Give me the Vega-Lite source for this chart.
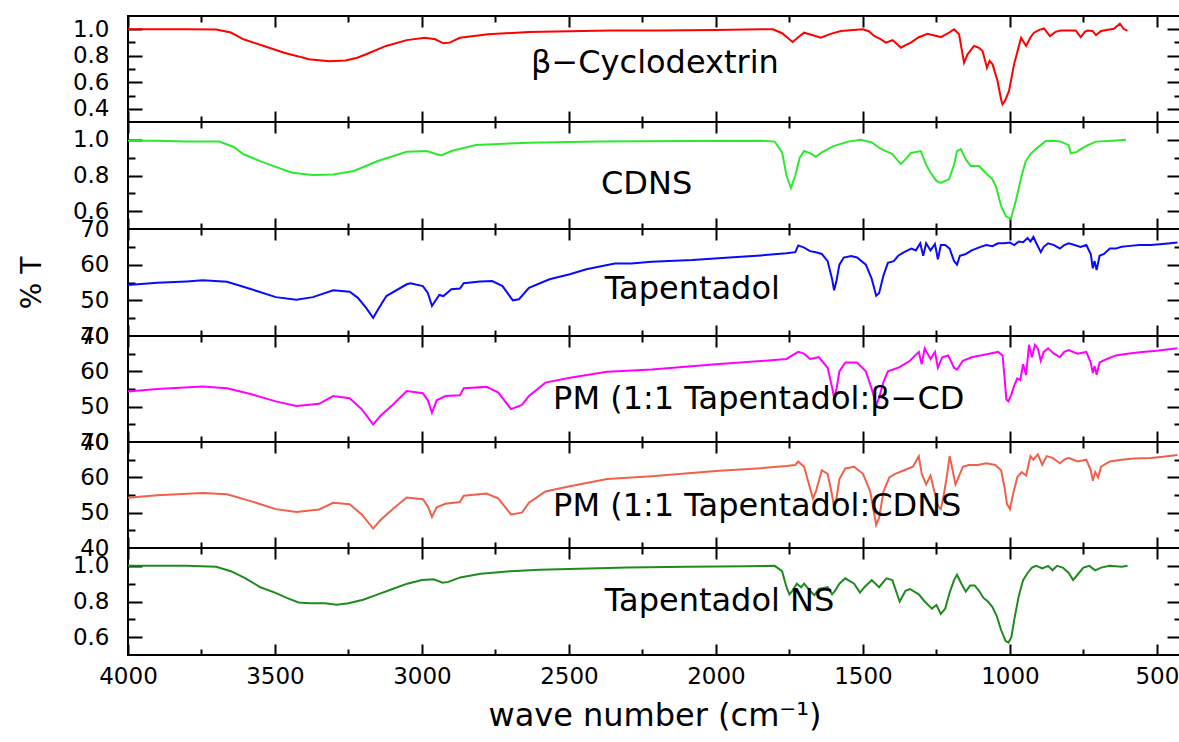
{
"$schema":"https://vega.github.io/schema/vega-lite/v6.json",
"padding":{"left":17,"top":14,"right":0,"bottom":0},
"background":"white",
"config":{"view":{"stroke":"black","strokeWidth":2},
"axis":{"domain":false,"grid":false,"tickColor":"black","tickWidth":2,"labelFont":"DejaVu Sans","labelFontSize":23,"labelColor":"black","titleFont":"DejaVu Sans","titleColor":"black","titleFontWeight":"normal","labelFlush":false,"labelOverlap":false}},
"datasets":{
"b":[{"w":4000,"v":1.0},{"w":3900,"v":1.0},{"w":3800,"v":1.0},{"w":3700,"v":0.998},{"w":3650,"v":0.975},{"w":3607,"v":0.924},{"w":3540,"v":0.875},{"w":3469,"v":0.823},{"w":3420,"v":0.795},{"w":3385,"v":0.773},{"w":3316,"v":0.758},{"w":3260,"v":0.765},{"w":3220,"v":0.785},{"w":3190,"v":0.811},{"w":3122,"v":0.874},{"w":3052,"v":0.918},{"w":2990,"v":0.936},{"w":2955,"v":0.924},{"w":2927,"v":0.894},{"w":2906,"v":0.899},{"w":2871,"v":0.936},{"w":2775,"v":0.962},{"w":2636,"v":0.979},{"w":2500,"v":0.985},{"w":2357,"v":0.99},{"w":2200,"v":0.99},{"w":2000,"v":0.995},{"w":1847,"v":1.0},{"w":1806,"v":1.0},{"w":1775,"v":0.97},{"w":1739,"v":0.904},{"w":1720,"v":0.94},{"w":1700,"v":0.974},{"w":1670,"v":0.955},{"w":1643,"v":0.936},{"w":1610,"v":0.965},{"w":1575,"v":0.987},{"w":1500,"v":1.0},{"w":1480,"v":0.985},{"w":1462,"v":0.949},{"w":1440,"v":0.925},{"w":1422,"v":0.899},{"w":1399,"v":0.917},{"w":1385,"v":0.89},{"w":1371,"v":0.861},{"w":1355,"v":0.88},{"w":1337,"v":0.899},{"w":1310,"v":0.94},{"w":1280,"v":0.966},{"w":1260,"v":0.955},{"w":1235,"v":0.941},{"w":1210,"v":0.97},{"w":1190,"v":1.0},{"w":1173,"v":0.962},{"w":1156,"v":0.748},{"w":1144,"v":0.811},{"w":1122,"v":0.874},{"w":1105,"v":0.86},{"w":1093,"v":0.836},{"w":1078,"v":0.71},{"w":1069,"v":0.761},{"w":1059,"v":0.735},{"w":1042,"v":0.609},{"w":1030,"v":0.47},{"w":1025,"v":0.434},{"w":1017,"v":0.459},{"w":1003,"v":0.534},{"w":986,"v":0.735},{"w":962,"v":0.936},{"w":945,"v":0.874},{"w":930,"v":0.94},{"w":918,"v":0.974},{"w":900,"v":0.995},{"w":884,"v":1.006},{"w":864,"v":0.949},{"w":845,"v":0.98},{"w":827,"v":0.99},{"w":776,"v":0.99},{"w":759,"v":0.941},{"w":745,"v":0.98},{"w":736,"v":0.99},{"w":719,"v":0.987},{"w":707,"v":0.956},{"w":690,"v":0.987},{"w":646,"v":1.004},{"w":626,"v":1.042},{"w":612,"v":1.0},{"w":600,"v":0.99}],
"c":[{"w":4000,"v":0.995},{"w":3900,"v":0.995},{"w":3800,"v":0.99},{"w":3690,"v":0.99},{"w":3640,"v":0.96},{"w":3607,"v":0.919},{"w":3538,"v":0.872},{"w":3441,"v":0.816},{"w":3372,"v":0.803},{"w":3302,"v":0.806},{"w":3232,"v":0.825},{"w":3150,"v":0.881},{"w":3052,"v":0.933},{"w":2983,"v":0.937},{"w":2955,"v":0.922},{"w":2934,"v":0.913},{"w":2900,"v":0.937},{"w":2816,"v":0.971},{"w":2636,"v":0.984},{"w":2400,"v":0.99},{"w":2100,"v":0.993},{"w":1847,"v":0.995},{"w":1800,"v":0.99},{"w":1775,"v":0.93},{"w":1760,"v":0.8},{"w":1745,"v":0.73},{"w":1730,"v":0.8},{"w":1715,"v":0.9},{"w":1700,"v":0.937},{"w":1680,"v":0.925},{"w":1660,"v":0.905},{"w":1640,"v":0.93},{"w":1600,"v":0.965},{"w":1550,"v":0.99},{"w":1507,"v":1.0},{"w":1470,"v":0.985},{"w":1440,"v":0.95},{"w":1400,"v":0.92},{"w":1371,"v":0.864},{"w":1350,"v":0.9},{"w":1337,"v":0.926},{"w":1303,"v":0.937},{"w":1285,"v":0.86},{"w":1269,"v":0.814},{"w":1250,"v":0.77},{"w":1235,"v":0.758},{"w":1207,"v":0.78},{"w":1190,"v":0.86},{"w":1180,"v":0.937},{"w":1167,"v":0.948},{"w":1150,"v":0.89},{"w":1133,"v":0.853},{"w":1105,"v":0.853},{"w":1082,"v":0.814},{"w":1060,"v":0.78},{"w":1048,"v":0.741},{"w":1030,"v":0.63},{"w":1014,"v":0.573},{"w":997,"v":0.556},{"w":980,"v":0.657},{"w":960,"v":0.8},{"w":946,"v":0.881},{"w":930,"v":0.92},{"w":912,"v":0.948},{"w":878,"v":0.993},{"w":850,"v":0.995},{"w":827,"v":0.99},{"w":800,"v":0.97},{"w":793,"v":0.926},{"w":775,"v":0.93},{"w":759,"v":0.948},{"w":735,"v":0.97},{"w":707,"v":0.99},{"w":650,"v":0.995},{"w":605,"v":1.0}],
"t":[{"w":4000,"v":54.3},{"w":3900,"v":54.9},{"w":3800,"v":55.3},{"w":3746,"v":55.6},{"w":3663,"v":55.2},{"w":3580,"v":53.1},{"w":3497,"v":50.9},{"w":3427,"v":50.2},{"w":3371,"v":50.9},{"w":3302,"v":52.8},{"w":3246,"v":52.4},{"w":3218,"v":50.7},{"w":3190,"v":47.9},{"w":3166,"v":45.1},{"w":3149,"v":47.5},{"w":3121,"v":51.2},{"w":3052,"v":54.5},{"w":3039,"v":54.8},{"w":2997,"v":54.0},{"w":2980,"v":52.1},{"w":2966,"v":48.4},{"w":2955,"v":49.8},{"w":2941,"v":51.5},{"w":2927,"v":51.2},{"w":2900,"v":53.1},{"w":2871,"v":53.3},{"w":2858,"v":54.8},{"w":2802,"v":55.3},{"w":2761,"v":55.4},{"w":2726,"v":54.0},{"w":2691,"v":50.0},{"w":2670,"v":50.3},{"w":2636,"v":53.5},{"w":2566,"v":55.9},{"w":2497,"v":57.3},{"w":2441,"v":58.7},{"w":2344,"v":60.3},{"w":2288,"v":60.3},{"w":2219,"v":60.8},{"w":2080,"v":61.3},{"w":1941,"v":62.1},{"w":1847,"v":62.6},{"w":1760,"v":63.2},{"w":1730,"v":63.5},{"w":1720,"v":65.4},{"w":1700,"v":64.8},{"w":1680,"v":63.8},{"w":1660,"v":63.5},{"w":1640,"v":63.0},{"w":1620,"v":61.0},{"w":1605,"v":56.0},{"w":1598,"v":52.8},{"w":1590,"v":55.5},{"w":1580,"v":60.0},{"w":1565,"v":62.0},{"w":1540,"v":62.4},{"w":1520,"v":62.0},{"w":1490,"v":60.0},{"w":1470,"v":56.0},{"w":1455,"v":51.3},{"w":1445,"v":52.0},{"w":1430,"v":57.0},{"w":1415,"v":60.5},{"w":1395,"v":61.0},{"w":1380,"v":62.5},{"w":1360,"v":63.5},{"w":1335,"v":64.5},{"w":1320,"v":64.0},{"w":1305,"v":66.0},{"w":1295,"v":62.5},{"w":1285,"v":66.0},{"w":1270,"v":64.0},{"w":1255,"v":65.8},{"w":1245,"v":61.5},{"w":1235,"v":65.5},{"w":1220,"v":65.5},{"w":1205,"v":64.5},{"w":1190,"v":61.0},{"w":1180,"v":60.0},{"w":1170,"v":62.5},{"w":1150,"v":63.0},{"w":1130,"v":64.0},{"w":1100,"v":65.0},{"w":1080,"v":65.5},{"w":1060,"v":65.2},{"w":1040,"v":66.0},{"w":1020,"v":66.0},{"w":1000,"v":66.2},{"w":985,"v":65.5},{"w":970,"v":66.5},{"w":955,"v":66.3},{"w":940,"v":67.5},{"w":930,"v":66.5},{"w":920,"v":67.8},{"w":910,"v":66.0},{"w":895,"v":63.5},{"w":885,"v":65.0},{"w":870,"v":66.0},{"w":850,"v":65.5},{"w":830,"v":64.5},{"w":815,"v":65.5},{"w":800,"v":66.0},{"w":780,"v":65.5},{"w":760,"v":65.0},{"w":740,"v":65.5},{"w":725,"v":63.0},{"w":718,"v":59.0},{"w":712,"v":61.0},{"w":705,"v":58.5},{"w":695,"v":62.5},{"w":680,"v":63.0},{"w":660,"v":64.5},{"w":640,"v":64.5},{"w":620,"v":65.0},{"w":600,"v":65.2},{"w":560,"v":65.5},{"w":520,"v":65.5},{"w":480,"v":65.8},{"w":430,"v":66.2}],
"pb":[{"w":4000,"v":54.3},{"w":3900,"v":55.0},{"w":3746,"v":55.7},{"w":3663,"v":55.2},{"w":3580,"v":53.5},{"w":3497,"v":51.5},{"w":3427,"v":50.2},{"w":3350,"v":50.8},{"w":3302,"v":53.0},{"w":3246,"v":52.4},{"w":3205,"v":49.3},{"w":3166,"v":45.0},{"w":3140,"v":47.5},{"w":3100,"v":50.5},{"w":3052,"v":54.4},{"w":2997,"v":53.8},{"w":2980,"v":51.8},{"w":2966,"v":48.3},{"w":2950,"v":51.8},{"w":2920,"v":53.0},{"w":2871,"v":53.2},{"w":2858,"v":55.2},{"w":2780,"v":55.6},{"w":2740,"v":54.0},{"w":2697,"v":49.3},{"w":2660,"v":50.5},{"w":2636,"v":53.0},{"w":2580,"v":56.8},{"w":2497,"v":58.2},{"w":2370,"v":59.9},{"w":2219,"v":60.5},{"w":2000,"v":62.0},{"w":1847,"v":62.9},{"w":1760,"v":63.5},{"w":1720,"v":65.5},{"w":1700,"v":65.0},{"w":1680,"v":63.5},{"w":1650,"v":64.0},{"w":1620,"v":61.0},{"w":1605,"v":55.5},{"w":1598,"v":52.5},{"w":1590,"v":55.0},{"w":1580,"v":60.0},{"w":1560,"v":62.5},{"w":1520,"v":62.5},{"w":1490,"v":60.0},{"w":1470,"v":55.0},{"w":1455,"v":50.5},{"w":1445,"v":52.5},{"w":1430,"v":57.0},{"w":1415,"v":60.0},{"w":1380,"v":61.0},{"w":1340,"v":63.0},{"w":1310,"v":65.5},{"w":1300,"v":62.0},{"w":1290,"v":66.5},{"w":1270,"v":63.5},{"w":1255,"v":65.5},{"w":1245,"v":61.0},{"w":1230,"v":64.0},{"w":1210,"v":64.5},{"w":1190,"v":61.0},{"w":1180,"v":60.5},{"w":1160,"v":63.0},{"w":1130,"v":64.0},{"w":1100,"v":64.5},{"w":1070,"v":65.0},{"w":1040,"v":65.5},{"w":1025,"v":64.5},{"w":1018,"v":58.0},{"w":1012,"v":52.0},{"w":1005,"v":51.5},{"w":995,"v":53.5},{"w":985,"v":56.0},{"w":975,"v":58.0},{"w":965,"v":57.5},{"w":955,"v":62.0},{"w":945,"v":59.0},{"w":935,"v":67.5},{"w":925,"v":64.0},{"w":915,"v":67.5},{"w":905,"v":66.5},{"w":895,"v":63.0},{"w":885,"v":65.5},{"w":870,"v":66.5},{"w":850,"v":65.0},{"w":830,"v":64.0},{"w":815,"v":65.5},{"w":800,"v":66.0},{"w":770,"v":65.0},{"w":740,"v":65.5},{"w":725,"v":62.5},{"w":718,"v":59.5},{"w":712,"v":61.5},{"w":705,"v":59.0},{"w":695,"v":62.5},{"w":670,"v":63.5},{"w":640,"v":64.5},{"w":600,"v":65.0},{"w":550,"v":65.5},{"w":500,"v":65.8},{"w":430,"v":66.5}],
"pc":[{"w":4000,"v":54.2},{"w":3900,"v":54.9},{"w":3746,"v":55.6},{"w":3663,"v":55.2},{"w":3580,"v":53.2},{"w":3497,"v":51.0},{"w":3427,"v":50.2},{"w":3350,"v":50.9},{"w":3302,"v":52.8},{"w":3246,"v":52.4},{"w":3205,"v":49.5},{"w":3166,"v":45.5},{"w":3140,"v":48.0},{"w":3100,"v":51.0},{"w":3052,"v":54.3},{"w":2997,"v":53.8},{"w":2980,"v":51.8},{"w":2966,"v":48.8},{"w":2950,"v":51.5},{"w":2920,"v":52.5},{"w":2871,"v":53.0},{"w":2858,"v":54.8},{"w":2780,"v":55.4},{"w":2740,"v":54.0},{"w":2697,"v":49.5},{"w":2660,"v":50.0},{"w":2636,"v":52.8},{"w":2580,"v":56.0},{"w":2497,"v":57.5},{"w":2370,"v":59.5},{"w":2219,"v":60.3},{"w":2000,"v":61.8},{"w":1847,"v":62.6},{"w":1760,"v":63.2},{"w":1730,"v":63.5},{"w":1720,"v":64.5},{"w":1700,"v":63.0},{"w":1680,"v":57.0},{"w":1670,"v":54.0},{"w":1660,"v":56.0},{"w":1640,"v":62.0},{"w":1620,"v":61.0},{"w":1605,"v":55.0},{"w":1598,"v":51.5},{"w":1590,"v":54.0},{"w":1580,"v":59.5},{"w":1560,"v":62.5},{"w":1530,"v":63.0},{"w":1500,"v":61.0},{"w":1475,"v":56.0},{"w":1455,"v":46.5},{"w":1445,"v":48.5},{"w":1430,"v":56.0},{"w":1410,"v":60.0},{"w":1390,"v":61.0},{"w":1360,"v":62.0},{"w":1330,"v":63.0},{"w":1310,"v":66.0},{"w":1300,"v":61.0},{"w":1285,"v":58.0},{"w":1270,"v":60.5},{"w":1260,"v":57.0},{"w":1245,"v":52.0},{"w":1235,"v":51.0},{"w":1225,"v":55.0},{"w":1215,"v":60.0},{"w":1205,"v":66.0},{"w":1195,"v":62.0},{"w":1185,"v":58.0},{"w":1175,"v":60.0},{"w":1160,"v":63.0},{"w":1140,"v":63.5},{"w":1110,"v":63.5},{"w":1080,"v":64.0},{"w":1050,"v":63.5},{"w":1030,"v":62.0},{"w":1018,"v":57.0},{"w":1010,"v":52.5},{"w":1000,"v":51.0},{"w":990,"v":55.0},{"w":975,"v":60.0},{"w":960,"v":61.5},{"w":945,"v":60.5},{"w":930,"v":66.0},{"w":920,"v":65.0},{"w":905,"v":66.5},{"w":890,"v":63.5},{"w":875,"v":66.0},{"w":855,"v":65.5},{"w":830,"v":64.0},{"w":815,"v":65.0},{"w":800,"v":65.5},{"w":770,"v":64.5},{"w":740,"v":65.0},{"w":725,"v":62.0},{"w":718,"v":59.0},{"w":710,"v":61.5},{"w":700,"v":60.0},{"w":690,"v":63.0},{"w":660,"v":64.5},{"w":620,"v":65.0},{"w":580,"v":65.3},{"w":520,"v":65.5},{"w":480,"v":65.8},{"w":430,"v":66.3}],
"tn":[{"w":4000,"v":1.0},{"w":3900,"v":1.0},{"w":3800,"v":1.0},{"w":3700,"v":0.995},{"w":3650,"v":0.97},{"w":3600,"v":0.93},{"w":3550,"v":0.88},{"w":3500,"v":0.85},{"w":3460,"v":0.82},{"w":3420,"v":0.795},{"w":3380,"v":0.79},{"w":3330,"v":0.79},{"w":3290,"v":0.782},{"w":3250,"v":0.79},{"w":3200,"v":0.81},{"w":3150,"v":0.84},{"w":3100,"v":0.87},{"w":3050,"v":0.9},{"w":3000,"v":0.92},{"w":2960,"v":0.925},{"w":2930,"v":0.905},{"w":2910,"v":0.91},{"w":2870,"v":0.935},{"w":2800,"v":0.955},{"w":2700,"v":0.97},{"w":2600,"v":0.978},{"w":2500,"v":0.982},{"w":2300,"v":0.99},{"w":2100,"v":0.995},{"w":1900,"v":0.997},{"w":1800,"v":1.0},{"w":1775,"v":0.97},{"w":1760,"v":0.88},{"w":1750,"v":0.84},{"w":1740,"v":0.86},{"w":1725,"v":0.9},{"w":1710,"v":0.88},{"w":1700,"v":0.9},{"w":1680,"v":0.86},{"w":1665,"v":0.835},{"w":1650,"v":0.87},{"w":1620,"v":0.88},{"w":1605,"v":0.84},{"w":1595,"v":0.86},{"w":1580,"v":0.9},{"w":1560,"v":0.93},{"w":1530,"v":0.9},{"w":1510,"v":0.85},{"w":1495,"v":0.88},{"w":1470,"v":0.92},{"w":1445,"v":0.88},{"w":1420,"v":0.93},{"w":1400,"v":0.92},{"w":1375,"v":0.8},{"w":1355,"v":0.86},{"w":1340,"v":0.87},{"w":1310,"v":0.84},{"w":1290,"v":0.8},{"w":1265,"v":0.76},{"w":1250,"v":0.78},{"w":1235,"v":0.73},{"w":1220,"v":0.76},{"w":1205,"v":0.85},{"w":1190,"v":0.92},{"w":1180,"v":0.95},{"w":1165,"v":0.9},{"w":1150,"v":0.855},{"w":1135,"v":0.89},{"w":1120,"v":0.89},{"w":1105,"v":0.86},{"w":1090,"v":0.82},{"w":1075,"v":0.8},{"w":1060,"v":0.77},{"w":1045,"v":0.72},{"w":1030,"v":0.64},{"w":1015,"v":0.58},{"w":1005,"v":0.57},{"w":995,"v":0.6},{"w":985,"v":0.7},{"w":970,"v":0.83},{"w":955,"v":0.92},{"w":940,"v":0.96},{"w":925,"v":0.99},{"w":910,"v":1.0},{"w":890,"v":0.985},{"w":870,"v":1.0},{"w":855,"v":0.975},{"w":840,"v":1.0},{"w":820,"v":0.99},{"w":800,"v":0.96},{"w":785,"v":0.92},{"w":770,"v":0.95},{"w":750,"v":0.99},{"w":730,"v":1.0},{"w":710,"v":0.975},{"w":690,"v":0.99},{"w":660,"v":1.0},{"w":620,"v":0.995},{"w":600,"v":1.0}],
"lab":[{"p":1,"w":2629,"v":0.748,"s":"β−Cyclodextrin"},{"p":2,"w":2391,"v":0.754,"s":"CDNS"},{"p":3,"w":2378,"v":53.2,"s":"Tapentadol"},{"p":4,"w":2554,"v":52.1,"s":"PM (1:1 Tapentadol:β−CD"},{"p":5,"w":2554,"v":51.9,"s":"PM (1:1 Tapentadol:CDNS"},{"p":6,"w":2378,"v":0.803,"s":"Tapentadol NS"}]
},
"vconcat":[
{"height":106,"width":1053,"layer":[
{"data":{"name":"b"},"mark":{"type":"line","color":"#ff0000","strokeWidth":2,"clip":true},"encoding":{"x":{"field":"w","type":"quantitative","scale":{"domain":[4000,418],"nice":false,"zero":false},"axis":null},"y":{"field":"v","type":"quantitative","scale":{"domain":[0.3,1.1],"nice":false,"zero":false},"axis":{"orient":"left","values":[0.4,0.6,0.8,1.0],"format":".1f","ticks":false,"labelPadding":19,"title":null}}}},
{"data":{"name":"b"},"mark":{"type":"line","opacity":0},"encoding":{"x":{"field":"w","type":"quantitative","scale":{"domain":[4000,418],"nice":false,"zero":false},"axis":{"orient":"bottom","values":[4000,3500,3000,2500,2000,1500,1000,500],"labels":false,"tickSize":-11,"title":null}},"y":{"field":"v","type":"quantitative","scale":{"domain":[0.3,1.1],"nice":false,"zero":false},"axis":{"orient":"left","values":[0.4,0.6,0.8,1.0],"labels":false,"tickSize":-14,"title":null}}}},
{"data":{"name":"b"},"mark":{"type":"line","opacity":0},"encoding":{"x":{"field":"w","type":"quantitative","scale":{"domain":[4000,418],"nice":false,"zero":false},"axis":{"orient":"bottom","values":[3750,3250,2750,2250,1750,1250,750],"labels":false,"tickSize":-6,"title":null}},"y":{"field":"v","type":"quantitative","scale":{"domain":[0.3,1.1],"nice":false,"zero":false},"axis":{"orient":"left","values":[0.5,0.7,0.9],"labels":false,"tickSize":-7,"title":null}}}},
{"data":{"name":"b"},"mark":{"type":"line","opacity":0},"encoding":{"x":{"field":"w","type":"quantitative","scale":{"domain":[4000,418],"nice":false,"zero":false},"axis":{"orient":"top","values":[4000,3500,3000,2500,2000,1500,1000,500],"labels":false,"tickSize":-11,"title":null}},"y":{"field":"v","type":"quantitative","scale":{"domain":[0.3,1.1],"nice":false,"zero":false},"axis":{"orient":"right","values":[0.4,0.6,0.8,1.0],"labels":false,"tickSize":-14,"title":null}}}},
{"data":{"name":"b"},"mark":{"type":"line","opacity":0},"encoding":{"x":{"field":"w","type":"quantitative","scale":{"domain":[4000,418],"nice":false,"zero":false},"axis":{"orient":"top","values":[3750,3250,2750,2250,1750,1250,750],"labels":false,"tickSize":-6,"title":null}},"y":{"field":"v","type":"quantitative","scale":{"domain":[0.3,1.1],"nice":false,"zero":false},"axis":{"orient":"right","values":[0.5,0.7,0.9],"labels":false,"tickSize":-7,"title":null}}}},
{"data":{"name":"lab"},"transform":[{"filter":"datum.p==1"}],"mark":{"type":"text","font":"DejaVu Sans","fontSize":32,"align":"left","baseline":"middle","color":"black"},"encoding":{"x":{"field":"w","type":"quantitative","scale":{"domain":[4000,418],"nice":false,"zero":false},"axis":null},"y":{"field":"v","type":"quantitative","scale":{"domain":[0.3,1.1],"nice":false,"zero":false},"axis":null},"text":{"field":"s"}}}
],"resolve":{"axis":{"x":"independent","y":"independent"}}},
{"height":107,"width":1053,"layer":[
{"data":{"name":"c"},"mark":{"type":"line","color":"#2ee82e","strokeWidth":2,"clip":true},"encoding":{"x":{"field":"w","type":"quantitative","scale":{"domain":[4000,418],"nice":false,"zero":false},"axis":null},"y":{"field":"v","type":"quantitative","scale":{"domain":[0.5,1.1],"nice":false,"zero":false},"axis":{"orient":"left","values":[0.6,0.8,1.0],"format":".1f","ticks":false,"labelPadding":19,"title":null}}}},
{"data":{"name":"c"},"mark":{"type":"line","opacity":0},"encoding":{"x":{"field":"w","type":"quantitative","scale":{"domain":[4000,418],"nice":false,"zero":false},"axis":{"orient":"bottom","values":[4000,3500,3000,2500,2000,1500,1000,500],"labels":false,"tickSize":-11,"title":null}},"y":{"field":"v","type":"quantitative","scale":{"domain":[0.5,1.1],"nice":false,"zero":false},"axis":{"orient":"left","values":[0.6,0.8,1.0],"labels":false,"tickSize":-14,"title":null}}}},
{"data":{"name":"c"},"mark":{"type":"line","opacity":0},"encoding":{"x":{"field":"w","type":"quantitative","scale":{"domain":[4000,418],"nice":false,"zero":false},"axis":{"orient":"bottom","values":[3750,3250,2750,2250,1750,1250,750],"labels":false,"tickSize":-6,"title":null}},"y":{"field":"v","type":"quantitative","scale":{"domain":[0.5,1.1],"nice":false,"zero":false},"axis":{"orient":"left","values":[0.7,0.9],"labels":false,"tickSize":-7,"title":null}}}},
{"data":{"name":"c"},"mark":{"type":"line","opacity":0},"encoding":{"x":{"field":"w","type":"quantitative","scale":{"domain":[4000,418],"nice":false,"zero":false},"axis":{"orient":"top","values":[4000,3500,3000,2500,2000,1500,1000,500],"labels":false,"tickSize":-11,"title":null}},"y":{"field":"v","type":"quantitative","scale":{"domain":[0.5,1.1],"nice":false,"zero":false},"axis":{"orient":"right","values":[0.6,0.8,1.0],"labels":false,"tickSize":-14,"title":null}}}},
{"data":{"name":"c"},"mark":{"type":"line","opacity":0},"encoding":{"x":{"field":"w","type":"quantitative","scale":{"domain":[4000,418],"nice":false,"zero":false},"axis":{"orient":"top","values":[3750,3250,2750,2250,1750,1250,750],"labels":false,"tickSize":-6,"title":null}},"y":{"field":"v","type":"quantitative","scale":{"domain":[0.5,1.1],"nice":false,"zero":false},"axis":{"orient":"right","values":[0.7,0.9],"labels":false,"tickSize":-7,"title":null}}}},
{"data":{"name":"lab"},"transform":[{"filter":"datum.p==2"}],"mark":{"type":"text","font":"DejaVu Sans","fontSize":32,"align":"left","baseline":"middle","color":"black"},"encoding":{"x":{"field":"w","type":"quantitative","scale":{"domain":[4000,418],"nice":false,"zero":false},"axis":null},"y":{"field":"v","type":"quantitative","scale":{"domain":[0.5,1.1],"nice":false,"zero":false},"axis":null},"text":{"field":"s"}}}
],"resolve":{"axis":{"x":"independent","y":"independent"}}},
{"height":107,"width":1053,"layer":[
{"data":{"name":"t"},"mark":{"type":"line","color":"#0a0aff","strokeWidth":2,"clip":true},"encoding":{"x":{"field":"w","type":"quantitative","scale":{"domain":[4000,418],"nice":false,"zero":false},"axis":null},"y":{"field":"v","type":"quantitative","scale":{"domain":[40,70],"nice":false,"zero":false},"axis":{"orient":"left","values":[40,50,60,70],"format":"d","ticks":false,"labelPadding":19,"title":"% T","titleFontSize":28,"titlePadding":33}}}},
{"data":{"name":"t"},"mark":{"type":"line","opacity":0},"encoding":{"x":{"field":"w","type":"quantitative","scale":{"domain":[4000,418],"nice":false,"zero":false},"axis":{"orient":"bottom","values":[4000,3500,3000,2500,2000,1500,1000,500],"labels":false,"tickSize":-11,"title":null}},"y":{"field":"v","type":"quantitative","scale":{"domain":[40,70],"nice":false,"zero":false},"axis":{"orient":"left","values":[50,60],"labels":false,"tickSize":-14,"title":null}}}},
{"data":{"name":"t"},"mark":{"type":"line","opacity":0},"encoding":{"x":{"field":"w","type":"quantitative","scale":{"domain":[4000,418],"nice":false,"zero":false},"axis":{"orient":"bottom","values":[3750,3250,2750,2250,1750,1250,750],"labels":false,"tickSize":-6,"title":null}},"y":{"field":"v","type":"quantitative","scale":{"domain":[40,70],"nice":false,"zero":false},"axis":{"orient":"left","values":[45,55,65],"labels":false,"tickSize":-7,"title":null}}}},
{"data":{"name":"t"},"mark":{"type":"line","opacity":0},"encoding":{"x":{"field":"w","type":"quantitative","scale":{"domain":[4000,418],"nice":false,"zero":false},"axis":{"orient":"top","values":[4000,3500,3000,2500,2000,1500,1000,500],"labels":false,"tickSize":-11,"title":null}},"y":{"field":"v","type":"quantitative","scale":{"domain":[40,70],"nice":false,"zero":false},"axis":{"orient":"right","values":[50,60],"labels":false,"tickSize":-14,"title":null}}}},
{"data":{"name":"t"},"mark":{"type":"line","opacity":0},"encoding":{"x":{"field":"w","type":"quantitative","scale":{"domain":[4000,418],"nice":false,"zero":false},"axis":{"orient":"top","values":[3750,3250,2750,2250,1750,1250,750],"labels":false,"tickSize":-6,"title":null}},"y":{"field":"v","type":"quantitative","scale":{"domain":[40,70],"nice":false,"zero":false},"axis":{"orient":"right","values":[45,55,65],"labels":false,"tickSize":-7,"title":null}}}},
{"data":{"name":"lab"},"transform":[{"filter":"datum.p==3"}],"mark":{"type":"text","font":"DejaVu Sans","fontSize":32,"align":"left","baseline":"middle","color":"black"},"encoding":{"x":{"field":"w","type":"quantitative","scale":{"domain":[4000,418],"nice":false,"zero":false},"axis":null},"y":{"field":"v","type":"quantitative","scale":{"domain":[40,70],"nice":false,"zero":false},"axis":null},"text":{"field":"s"}}}
],"resolve":{"axis":{"x":"independent","y":"independent"}}},
{"height":106,"width":1053,"layer":[
{"data":{"name":"pb"},"mark":{"type":"line","color":"#ff00ff","strokeWidth":2,"clip":true},"encoding":{"x":{"field":"w","type":"quantitative","scale":{"domain":[4000,418],"nice":false,"zero":false},"axis":null},"y":{"field":"v","type":"quantitative","scale":{"domain":[40,70],"nice":false,"zero":false},"axis":{"orient":"left","values":[40,50,60,70],"format":"d","ticks":false,"labelPadding":19,"title":null}}}},
{"data":{"name":"pb"},"mark":{"type":"line","opacity":0},"encoding":{"x":{"field":"w","type":"quantitative","scale":{"domain":[4000,418],"nice":false,"zero":false},"axis":{"orient":"bottom","values":[4000,3500,3000,2500,2000,1500,1000,500],"labels":false,"tickSize":-11,"title":null}},"y":{"field":"v","type":"quantitative","scale":{"domain":[40,70],"nice":false,"zero":false},"axis":{"orient":"left","values":[50,60],"labels":false,"tickSize":-14,"title":null}}}},
{"data":{"name":"pb"},"mark":{"type":"line","opacity":0},"encoding":{"x":{"field":"w","type":"quantitative","scale":{"domain":[4000,418],"nice":false,"zero":false},"axis":{"orient":"bottom","values":[3750,3250,2750,2250,1750,1250,750],"labels":false,"tickSize":-6,"title":null}},"y":{"field":"v","type":"quantitative","scale":{"domain":[40,70],"nice":false,"zero":false},"axis":{"orient":"left","values":[45,55,65],"labels":false,"tickSize":-7,"title":null}}}},
{"data":{"name":"pb"},"mark":{"type":"line","opacity":0},"encoding":{"x":{"field":"w","type":"quantitative","scale":{"domain":[4000,418],"nice":false,"zero":false},"axis":{"orient":"top","values":[4000,3500,3000,2500,2000,1500,1000,500],"labels":false,"tickSize":-11,"title":null}},"y":{"field":"v","type":"quantitative","scale":{"domain":[40,70],"nice":false,"zero":false},"axis":{"orient":"right","values":[50,60],"labels":false,"tickSize":-14,"title":null}}}},
{"data":{"name":"pb"},"mark":{"type":"line","opacity":0},"encoding":{"x":{"field":"w","type":"quantitative","scale":{"domain":[4000,418],"nice":false,"zero":false},"axis":{"orient":"top","values":[3750,3250,2750,2250,1750,1250,750],"labels":false,"tickSize":-6,"title":null}},"y":{"field":"v","type":"quantitative","scale":{"domain":[40,70],"nice":false,"zero":false},"axis":{"orient":"right","values":[45,55,65],"labels":false,"tickSize":-7,"title":null}}}},
{"data":{"name":"lab"},"transform":[{"filter":"datum.p==4"}],"mark":{"type":"text","font":"DejaVu Sans","fontSize":32,"align":"left","baseline":"middle","color":"black"},"encoding":{"x":{"field":"w","type":"quantitative","scale":{"domain":[4000,418],"nice":false,"zero":false},"axis":null},"y":{"field":"v","type":"quantitative","scale":{"domain":[40,70],"nice":false,"zero":false},"axis":null},"text":{"field":"s"}}}
],"resolve":{"axis":{"x":"independent","y":"independent"}}},
{"height":106,"width":1053,"layer":[
{"data":{"name":"pc"},"mark":{"type":"line","color":"#f0604a","strokeWidth":2,"clip":true},"encoding":{"x":{"field":"w","type":"quantitative","scale":{"domain":[4000,418],"nice":false,"zero":false},"axis":null},"y":{"field":"v","type":"quantitative","scale":{"domain":[40,70],"nice":false,"zero":false},"axis":{"orient":"left","values":[40,50,60,70],"format":"d","ticks":false,"labelPadding":19,"title":null}}}},
{"data":{"name":"pc"},"mark":{"type":"line","opacity":0},"encoding":{"x":{"field":"w","type":"quantitative","scale":{"domain":[4000,418],"nice":false,"zero":false},"axis":{"orient":"bottom","values":[4000,3500,3000,2500,2000,1500,1000,500],"labels":false,"tickSize":-11,"title":null}},"y":{"field":"v","type":"quantitative","scale":{"domain":[40,70],"nice":false,"zero":false},"axis":{"orient":"left","values":[50,60],"labels":false,"tickSize":-14,"title":null}}}},
{"data":{"name":"pc"},"mark":{"type":"line","opacity":0},"encoding":{"x":{"field":"w","type":"quantitative","scale":{"domain":[4000,418],"nice":false,"zero":false},"axis":{"orient":"bottom","values":[3750,3250,2750,2250,1750,1250,750],"labels":false,"tickSize":-6,"title":null}},"y":{"field":"v","type":"quantitative","scale":{"domain":[40,70],"nice":false,"zero":false},"axis":{"orient":"left","values":[45,55,65],"labels":false,"tickSize":-7,"title":null}}}},
{"data":{"name":"pc"},"mark":{"type":"line","opacity":0},"encoding":{"x":{"field":"w","type":"quantitative","scale":{"domain":[4000,418],"nice":false,"zero":false},"axis":{"orient":"top","values":[4000,3500,3000,2500,2000,1500,1000,500],"labels":false,"tickSize":-11,"title":null}},"y":{"field":"v","type":"quantitative","scale":{"domain":[40,70],"nice":false,"zero":false},"axis":{"orient":"right","values":[50,60],"labels":false,"tickSize":-14,"title":null}}}},
{"data":{"name":"pc"},"mark":{"type":"line","opacity":0},"encoding":{"x":{"field":"w","type":"quantitative","scale":{"domain":[4000,418],"nice":false,"zero":false},"axis":{"orient":"top","values":[3750,3250,2750,2250,1750,1250,750],"labels":false,"tickSize":-6,"title":null}},"y":{"field":"v","type":"quantitative","scale":{"domain":[40,70],"nice":false,"zero":false},"axis":{"orient":"right","values":[45,55,65],"labels":false,"tickSize":-7,"title":null}}}},
{"data":{"name":"lab"},"transform":[{"filter":"datum.p==5"}],"mark":{"type":"text","font":"DejaVu Sans","fontSize":32,"align":"left","baseline":"middle","color":"black"},"encoding":{"x":{"field":"w","type":"quantitative","scale":{"domain":[4000,418],"nice":false,"zero":false},"axis":null},"y":{"field":"v","type":"quantitative","scale":{"domain":[40,70],"nice":false,"zero":false},"axis":null},"text":{"field":"s"}}}
],"resolve":{"axis":{"x":"independent","y":"independent"}}},
{"height":107,"width":1053,"layer":[
{"data":{"name":"tn"},"mark":{"type":"line","color":"#1f8a1f","strokeWidth":2,"clip":true},"encoding":{"x":{"field":"w","type":"quantitative","scale":{"domain":[4000,418],"nice":false,"zero":false},"axis":{"orient":"bottom","values":[4000,3500,3000,2500,2000,1500,1000,500],"format":"d","ticks":false,"labelPadding":10,"title":"wave number (cm⁻¹)","titleFontSize":32,"titlePadding":12}},"y":{"field":"v","type":"quantitative","scale":{"domain":[0.5,1.1],"nice":false,"zero":false},"axis":{"orient":"left","values":[0.6,0.8,1.0],"format":".1f","ticks":false,"labelPadding":19,"title":null}}}},
{"data":{"name":"tn"},"mark":{"type":"line","opacity":0},"encoding":{"x":{"field":"w","type":"quantitative","scale":{"domain":[4000,418],"nice":false,"zero":false},"axis":{"orient":"bottom","values":[4000,3500,3000,2500,2000,1500,1000,500],"labels":false,"tickSize":-11,"title":null}},"y":{"field":"v","type":"quantitative","scale":{"domain":[0.5,1.1],"nice":false,"zero":false},"axis":{"orient":"left","values":[0.6,0.8,1.0],"labels":false,"tickSize":-14,"title":null}}}},
{"data":{"name":"tn"},"mark":{"type":"line","opacity":0},"encoding":{"x":{"field":"w","type":"quantitative","scale":{"domain":[4000,418],"nice":false,"zero":false},"axis":{"orient":"bottom","values":[3750,3250,2750,2250,1750,1250,750],"labels":false,"tickSize":-6,"title":null}},"y":{"field":"v","type":"quantitative","scale":{"domain":[0.5,1.1],"nice":false,"zero":false},"axis":{"orient":"left","values":[0.7,0.9],"labels":false,"tickSize":-7,"title":null}}}},
{"data":{"name":"tn"},"mark":{"type":"line","opacity":0},"encoding":{"x":{"field":"w","type":"quantitative","scale":{"domain":[4000,418],"nice":false,"zero":false},"axis":{"orient":"top","values":[4000,3500,3000,2500,2000,1500,1000,500],"labels":false,"tickSize":-11,"title":null}},"y":{"field":"v","type":"quantitative","scale":{"domain":[0.5,1.1],"nice":false,"zero":false},"axis":{"orient":"right","values":[0.6,0.8,1.0],"labels":false,"tickSize":-14,"title":null}}}},
{"data":{"name":"tn"},"mark":{"type":"line","opacity":0},"encoding":{"x":{"field":"w","type":"quantitative","scale":{"domain":[4000,418],"nice":false,"zero":false},"axis":{"orient":"top","values":[3750,3250,2750,2250,1750,1250,750],"labels":false,"tickSize":-6,"title":null}},"y":{"field":"v","type":"quantitative","scale":{"domain":[0.5,1.1],"nice":false,"zero":false},"axis":{"orient":"right","values":[0.7,0.9],"labels":false,"tickSize":-7,"title":null}}}},
{"data":{"name":"lab"},"transform":[{"filter":"datum.p==6"}],"mark":{"type":"text","font":"DejaVu Sans","fontSize":32,"align":"left","baseline":"middle","color":"black"},"encoding":{"x":{"field":"w","type":"quantitative","scale":{"domain":[4000,418],"nice":false,"zero":false},"axis":null},"y":{"field":"v","type":"quantitative","scale":{"domain":[0.5,1.1],"nice":false,"zero":false},"axis":null},"text":{"field":"s"}}}
],"resolve":{"axis":{"x":"independent","y":"independent"}}}
],
"spacing":0,
"bounds":"flush"
}
